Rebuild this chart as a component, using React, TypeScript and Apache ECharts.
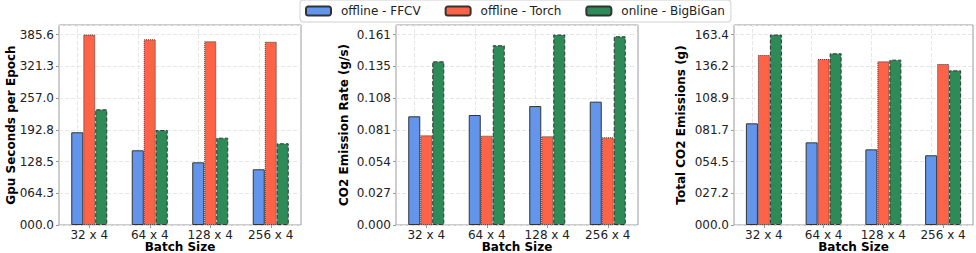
import React, { useEffect, useRef } from "react";
import * as echarts from "echarts";

const categories = ["32 x 4", "64 x 4", "128 x 4", "256 x 4"];
const seriesNames = ["offline - FFCV", "offline - Torch", "online - BigBiGan"];

// Panel 1: Gpu Seconds per Epoch
const gpuFFCV = [187.7, 151.2, 126.9, 112.8];
const gpuTorch = [385.6, 375.9, 371.9, 371.0];
const gpuBigBiGan = [234.2, 192.3, 176.7, 165.4];
const gpuTicks = ["000.0", "064.3", "128.5", "192.8", "257.0", "321.3", "385.6"];

// Panel 2: CO2 Emission Rate (g/s)
const rateFFCV = [0.0921, 0.0932, 0.1008, 0.1045];
const rateTorch = [0.076, 0.0757, 0.0752, 0.0743];
const rateBigBiGan = [0.1387, 0.1523, 0.1614, 0.1599];
const rateTicks = ["0.000", "0.027", "0.054", "0.081", "0.108", "0.135", "0.161"];

// Panel 3: Total CO2 Emissions (g)
const totFFCV = [87.2, 70.9, 64.9, 59.8];
const totTorch = [145.8, 142.4, 140.4, 138.1];
const totBigBiGan = [163.4, 147.3, 141.8, 132.7];
const totTicks = ["000.0", "027.2", "054.5", "081.7", "108.9", "136.2", "163.4"];

const panels = [
  { name: "Gpu Seconds per Epoch", top: 385.6, ticks: gpuTicks, data: [gpuFFCV, gpuTorch, gpuBigBiGan], left: 59, width: 242, nameGap: 42 },
  { name: "CO2 Emission Rate (g/s)", top: 0.1614, ticks: rateTicks, data: [rateFFCV, rateTorch, rateBigBiGan], left: 396, width: 242, nameGap: 46 },
  { name: "Total CO2 Emissions (g)", top: 163.4, ticks: totTicks, data: [totFFCV, totTorch, totBigBiGan], left: 734, width: 239, nameGap: 47 },
];

const colors = ["#6495ED", "#FF6347", "#2E8B57"];
const borderTypes = ["solid", "dotted", "dashed"];
const FONT = "DejaVu Sans";

export default function App() {
  const ref = useRef<HTMLDivElement>(null);
  useEffect(() => {
    if (!ref.current) return;
    const chart = echarts.init(ref.current, undefined, { renderer: "svg" });
    const grid: any[] = [];
    const xAxis: any[] = [];
    const yAxis: any[] = [];
    const series: any[] = [];
    panels.forEach((p, pi) => {
      grid.push({
        left: p.left, top: 25, width: p.width, height: 200, show: true,
        borderColor: "#9a9a9a", borderWidth: 1, backgroundColor: "transparent",
        containLabel: false, outerBoundsMode: "none",
      });
      xAxis.push({
        type: "category", gridIndex: pi, data: categories,
        name: "Batch Size", nameLocation: "middle", nameGap: 16, nameMoveOverlap: false,
        nameTextStyle: { fontFamily: FONT, fontSize: 12, lineHeight: 12, fontWeight: "bold", color: "#000" },
        axisLine: { show: false },
        axisTick: { show: true, alignWithLabel: true, length: 3, lineStyle: { color: "#9a9a9a" } },
        axisLabel: { fontFamily: FONT, fontSize: 12, color: "#222", margin: 4 },
        splitLine: { show: false },
      });
      const interval = p.top / 6;
      yAxis.push({
        type: "value", gridIndex: pi, min: 0, max: p.top * 1.05, interval,
        name: p.name, nameLocation: "middle", nameRotate: 90, nameGap: p.nameGap, nameMoveOverlap: false,
        nameTextStyle: { fontFamily: FONT, fontSize: 12, fontWeight: "bold", color: "#000" },
        axisLine: { show: false },
        axisTick: { show: true, length: 3, lineStyle: { color: "#9a9a9a" } },
        axisLabel: {
          fontFamily: FONT, fontSize: 12, color: "#222", margin: 5, showMaxLabel: false,
          formatter: (_v: number, i: number) => p.ticks[i] ?? "",
        },
        splitLine: { show: true, lineStyle: { color: "#e6e6e6", type: "dashed", width: 1 } },
      });
      p.data.forEach((d, si) => {
        const s: any = {
          type: "bar", name: seriesNames[si], xAxisIndex: pi, yAxisIndex: pi, data: d,
          barWidth: 12, barGap: "0%",
          itemStyle: { color: colors[si], borderColor: "#333", borderWidth: 1, borderType: borderTypes[si] },
        };
        if (si === 0) {
          s.markLine = {
            silent: true, symbol: "none", z: 1, label: { show: false },
            lineStyle: { color: "#e6e6e6", type: "dashed", width: 1 },
            data: categories.map((c) => ({ xAxis: c })),
          };
        }
        series.push(s);
      });
    });
    chart.setOption({
      animation: false,
      legend: {
        data: seriesNames, left: 300, top: 0, padding: [5, 6, 5, 5], itemGap: 24,
        itemWidth: 25, itemHeight: 9, borderColor: "#d0d0d0", borderWidth: 1, borderRadius: 3,
        backgroundColor: "#fff",
        textStyle: { fontFamily: FONT, fontSize: 12, color: "#222", padding: [0, 0, 0, 5] },
      },
      grid, xAxis, yAxis, series,
    });
    return () => chart.dispose();
  }, []);
  return <div ref={ref} style={{ position: "absolute", left: 0, top: 0, width: 976, height: 253 }} />;
}
